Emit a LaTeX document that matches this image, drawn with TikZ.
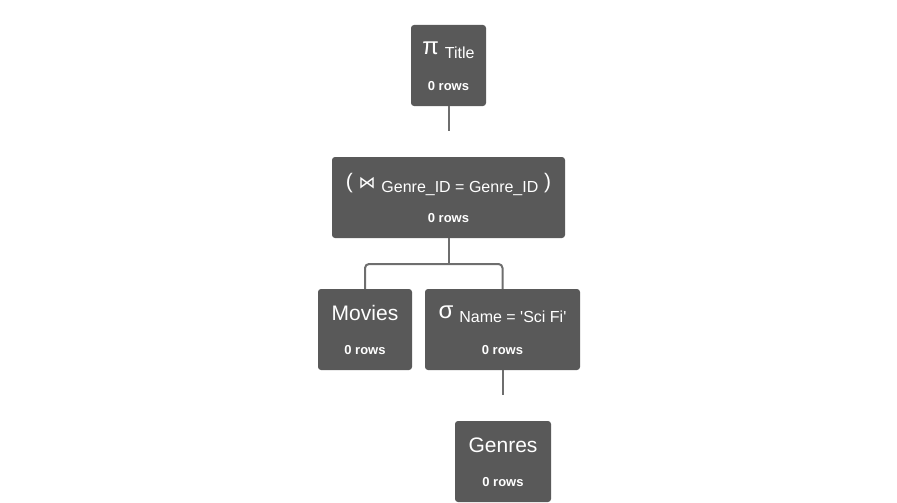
\documentclass[tikz,border=0pt]{standalone}
\usepackage{fontspec}
\setmainfont{Liberation Sans}
\newfontfamily\symfont{DejaVu Sans}
\usetikzlibrary{positioning}

\definecolor{boxgray}{HTML}{595959}
\definecolor{linegray}{HTML}{6E6E6E}
\newcommand{\opsub}[1]{\raisebox{-4pt}{\fontsize{16}{16}\selectfont #1}}
\newcommand{\opsym}[1]{{\fontsize{24}{24}\selectfont #1}}

\tikzset{
  opbox/.style={fill=boxgray, rounded corners=3pt, minimum height=81pt, inner sep=0pt},
  oplabel/.style={text=white, font=\fontsize{21}{21}\selectfont, inner sep=0pt},
  rowlabel/.style={text=white, font=\bfseries\fontsize{13}{13}\selectfont, inner sep=0pt},
  link/.style={draw=linegray, line width=2pt}
}

\begin{document}
\begin{tikzpicture}[x=1pt,y=-1pt]
\useasboundingbox (0,0) rectangle (897,503);
% operator boxes
\node[opbox,minimum width=75pt] (title) at (448.5,65.5) {};
\node[opbox,minimum width=233pt] (join) at (448.5,197.5) {};
\node[opbox,minimum width=94pt] (movies) at (365,329.5) {};
\node[opbox,minimum width=155pt] (select) at (502.5,329.5) {};
\node[opbox,minimum width=96pt] (genres) at (503,461.5) {};
%
\node[oplabel] (titleop) at ([yshift=-25pt]title.north) {\opsym{π} \opsub{Title}};
\node[rowlabel] (titlerows) at ([yshift=-61pt]title.north) {0 rows};
\node[oplabel] (joinop) at ([yshift=-28pt]join.north) {( {\symfont\fontsize{17}{17}\selectfont ⋈} \opsub{Genre\_ID = Genre\_ID} )};
\node[rowlabel] (joinrows) at ([yshift=-61pt]join.north) {0 rows};
\node[oplabel] (moviesop) at ([yshift=-24pt]movies.north) {Movies};
\node[rowlabel] (moviesrows) at ([yshift=-61pt]movies.north) {0 rows};
\node[oplabel] (selectop) at ([yshift=-25pt]select.north) {\opsym{σ} \opsub{Name = \textquotesingle Sci Fi\textquotesingle}};
\node[rowlabel] (selectrows) at ([yshift=-61pt]select.north) {0 rows};
\node[oplabel] (genresop) at ([yshift=-24pt]genres.north) {Genres};
\node[rowlabel] (genresrows) at ([yshift=-61pt]genres.north) {0 rows};
% connectors
\coordinate (titleend) at (448.5,131);
\coordinate (fork) at (448.5,264);
\coordinate (selectend) at (502.5,395);
\draw[link] (title.south) -- (titleend);
\draw[link] (join.south) -- (fork);
\draw[link,rounded corners=4pt] (movies.north) |- (fork) -| (select.north);
\draw[link] (select.south) -- (selectend);
\end{tikzpicture}
\end{document}
